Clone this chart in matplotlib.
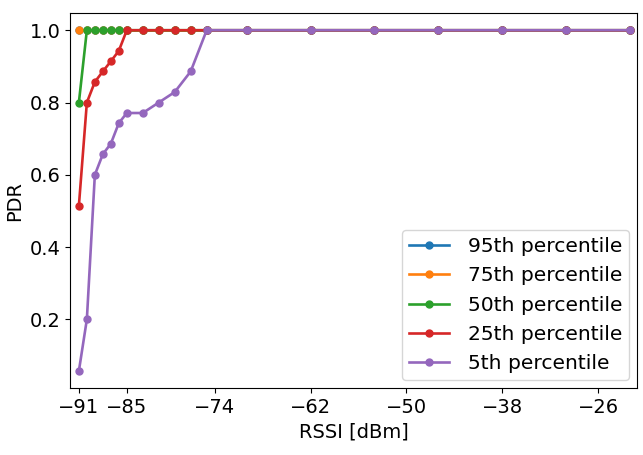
import matplotlib
matplotlib.use("Agg")
import matplotlib.pyplot as plt

rssi = [-91, -90, -89, -88, -87, -86, -85, -83, -81, -79, -77, -75,
        -70, -62, -54, -46, -38, -30, -22]

pdr_95 = [1.0] * 19
pdr_75 = [1.0] * 19
pdr_50 = [0.8] + [1.0] * 18
pdr_25 = [0.514, 0.8, 0.857, 0.886, 0.914, 0.943] + [1.0] * 13
pdr_5 = [0.057, 0.2, 0.6, 0.657, 0.686, 0.743, 0.771, 0.771, 0.8, 0.829,
         0.886] + [1.0] * 8

labels = ["95th percentile", "75th percentile", "50th percentile",
          "25th percentile", "5th percentile"]
xticks = [-91, -85, -74, -62, -50, -38, -26]

plt.rcParams['font.size'] = 14

fig, ax = plt.subplots(figsize=(6.43, 4.55), dpi=100)
for series, label in zip([pdr_95, pdr_75, pdr_50, pdr_25, pdr_5], labels):
    ax.plot(rssi, series, marker='o', markersize=5, linewidth=1.9, label=label)

ax.set_xticks(xticks)
ax.set_xlim(-92.1, -21.1)
ax.set_yticks([0.2, 0.4, 0.6, 0.8, 1.0])
ax.set_xlabel("RSSI [dBm]")
ax.set_ylabel("PDR")
ax.legend(loc='lower right', fontsize=14.6, borderaxespad=0.4,
          handletextpad=0.9, borderpad=0.35)

fig.subplots_adjust(left=0.109, right=0.991, top=0.971, bottom=0.147)
fig.savefig("out.png")
